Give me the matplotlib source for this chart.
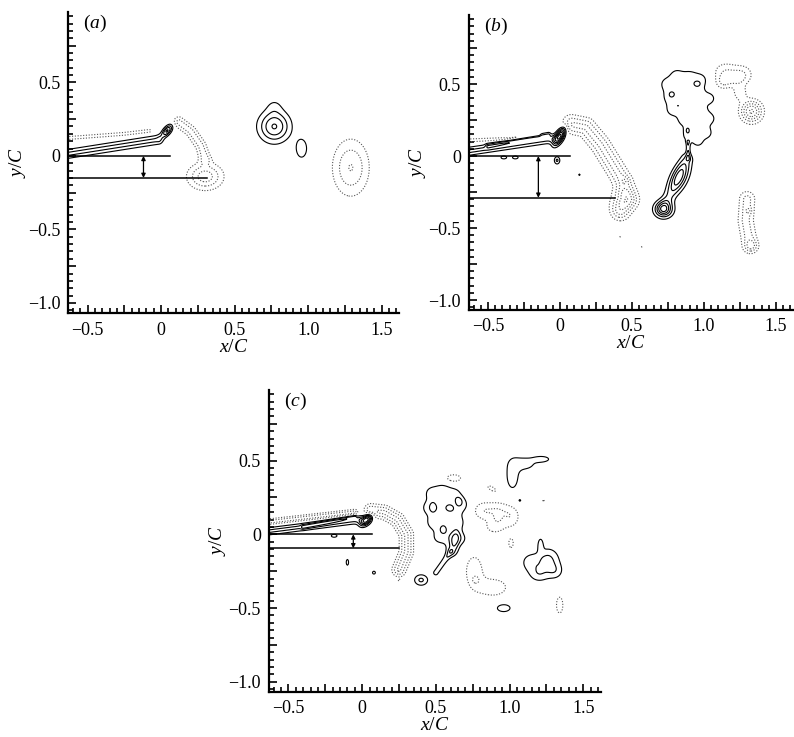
import numpy as np
import matplotlib
matplotlib.use("Agg")
import matplotlib.pyplot as plt
from matplotlib.ticker import MultipleLocator, FuncFormatter

plt.rcParams['font.family'] = ['Liberation Serif', 'DejaVu Serif']
plt.rcParams['mathtext.fontset'] = 'custom'
plt.rcParams['mathtext.rm'] = 'Liberation Serif'
plt.rcParams['mathtext.it'] = 'Liberation Serif:italic'

# vorticity blobs: (x, y, sx, sy, angle_deg, strength)
blobs_a = [
    (0.04, 0.17, 0.035, 0.017, 50, 2.1),
    (0.30, -0.14, 0.08, 0.06, 0, -1.8),
    (0.77, 0.20, 0.072, 0.072, 0, 2.05),
    (0.77, 0.34, 0.04, 0.04, 0, 0.4),
    (0.955, 0.05, 0.035, 0.06, 0, 0.8),
    (1.29, -0.08, 0.084, 0.13, 0, -1.52),
]
# ridges (shear layers / wake bands): (xs, ys, width, strength)
ridges_a = [
    ([-0.72, -0.02], [0.0, 0.11], 0.024, 1.1),
    ([-0.72, -0.25, -0.08], [0.115, 0.15, 0.17], 0.010, -0.8),
    ([0.12, 0.20, 0.27, 0.30], [0.23, 0.17, 0.07, -0.02], 0.027, -1.2),
]

blobs_b = [
    (0.00, 0.14, 0.048, 0.020, 60, 3.2),
    (-0.02, -0.03, 0.015, 0.02, 0, 1.1),
    (-0.39, -0.01, 0.02, 0.01, 0, 0.8),
    (-0.31, -0.01, 0.02, 0.01, 0, 0.8),
    (0.135, -0.13, 0.006, 0.006, 0, 0.7),
    (0.44, -0.30, 0.065, 0.055, 0, -1.0),
    (0.45, -0.17, 0.02, 0.02, 0, -0.5),
    # upper positive cluster
    (0.74, 0.50, 0.04, 0.04, 0, 0.65),
    (0.81, 0.56, 0.04, 0.04, 0, 0.65),
    (0.90, 0.55, 0.04, 0.04, 0, 0.65),
    (0.98, 0.53, 0.04, 0.04, 0, 0.65),
    (0.76, 0.41, 0.04, 0.04, 0, 0.65),
    (0.86, 0.45, 0.04, 0.04, 0, 0.65),
    (0.96, 0.44, 0.04, 0.04, 0, 0.65),
    (1.04, 0.40, 0.035, 0.035, 0, 0.65),
    (0.78, 0.32, 0.04, 0.04, 0, 0.65),
    (0.88, 0.35, 0.04, 0.04, 0, 0.65),
    (0.98, 0.32, 0.04, 0.04, 0, 0.65),
    (1.04, 0.26, 0.035, 0.035, 0, 0.65),
    (0.86, 0.25, 0.04, 0.04, 0, 0.65),
    (0.95, 0.22, 0.045, 0.04, 0, 0.7),
    (1.02, 0.16, 0.035, 0.035, 0, 0.65),
    (0.89, 0.14, 0.035, 0.035, 0, 0.65),
    (0.96, 0.10, 0.035, 0.035, 0, 0.6),
    (0.78, 0.43, 0.018, 0.018, 0, 0.5),
    (0.95, 0.50, 0.02, 0.015, 0, 0.5),
    (0.885, 0.18, 0.015, 0.02, 0, 0.5),
    (0.82, 0.35, 0.012, 0.012, 0, 0.4),
    # lower positive pair
    (0.83, -0.15, 0.08, 0.04, 65, 1.6),
    (0.72, -0.37, 0.045, 0.04, 0, 2.1),
    # upper right negative cluster
    (1.15, 0.59, 0.06, 0.045, 0, -0.85),
    (1.27, 0.57, 0.05, 0.045, 0, -0.85),
    (1.20, 0.53, 0.06, 0.035, 0, -0.8),
    (1.13, 0.51, 0.035, 0.035, 0, -0.7),
    (1.25, 0.44, 0.035, 0.04, 0, -0.8),
    (1.33, 0.31, 0.05, 0.05, 0, -2.6),
    (1.33, -0.62, 0.028, 0.028, 0, -0.8),
    (1.31, -0.38, 0.015, 0.015, 0, -0.6),
    (0.42, -0.56, 0.005, 0.005, 0, -0.7),
    (0.57, -0.63, 0.005, 0.005, 0, -0.7),
]
ridges_b = [
    ([-0.72, -0.05], [0.02, 0.12], 0.022, 1.1),
    ([-0.50, -0.08], [0.07, 0.15], 0.012, 0.8),
    ([-0.72, -0.35, -0.15], [0.105, 0.12, 0.15], 0.010, -0.8),
    ([0.08, 0.18, 0.28, 0.36, 0.44, 0.47, 0.42],
     [0.22, 0.20, 0.08, -0.05, -0.18, -0.30, -0.38], 0.045, -1.6),
    ([0.89, 0.89], [0.10, -0.02], 0.010, 0.8),
    ([0.72, 0.88], [-0.36, -0.02], 0.03, 0.8),
    ([1.30, 1.29, 1.32], [-0.30, -0.45, -0.62], 0.04, -1.2),
]

blobs_c = [
    (0.03, 0.10, 0.035, 0.02, 45, 3.0),
    (-0.19, -0.01, 0.02, 0.01, 0, 0.8),
    (-0.10, -0.19, 0.008, 0.02, 0, 0.8),
    (0.08, -0.26, 0.01, 0.01, 0, 0.8),
    (0.25, -0.31, 0.005, 0.005, 0, -0.7),
    (0.40, -0.31, 0.035, 0.028, 0, 1.1),
    # central positive cluster
    (0.47, 0.28, 0.04, 0.04, 0, 0.65),
    (0.55, 0.30, 0.04, 0.04, 0, 0.65),
    (0.63, 0.27, 0.04, 0.04, 0, 0.65),
    (0.68, 0.20, 0.035, 0.035, 0, 0.65),
    (0.45, 0.18, 0.04, 0.04, 0, 0.65),
    (0.53, 0.18, 0.04, 0.04, 0, 0.65),
    (0.62, 0.16, 0.04, 0.04, 0, 0.65),
    (0.48, 0.08, 0.04, 0.04, 0, 0.65),
    (0.56, 0.08, 0.04, 0.04, 0, 0.65),
    (0.65, 0.08, 0.04, 0.04, 0, 0.65),
    (0.52, -0.02, 0.04, 0.04, 0, 0.6),
    (0.60, -0.02, 0.04, 0.04, 0, 0.65),
    (0.67, -0.03, 0.035, 0.035, 0, 0.6),
    (0.61, -0.11, 0.035, 0.035, 0, 0.65),
    (0.48, 0.185, 0.015, 0.025, 0, 0.6),
    (0.59, 0.185, 0.02, 0.02, 0, 0.5),
    (0.655, 0.23, 0.02, 0.02, 0, 0.5),
    (0.55, 0.03, 0.02, 0.02, 0, 0.5),
    (0.63, -0.04, 0.05, 0.022, 80, 1.1),
    # other structures
    (0.62, 0.38, 0.05, 0.025, 0, -0.8),
    (0.88, 0.31, 0.03, 0.012, -30, -0.8),
    (0.82, 0.16, 0.05, 0.045, 0, -0.85),
    (0.92, 0.16, 0.05, 0.045, 0, -0.85),
    (1.01, 0.12, 0.045, 0.055, 0, -0.85),
    (0.90, 0.05, 0.05, 0.035, 0, -0.75),
    (0.92, 0.11, 0.02, 0.02, 0, -0.5),
    (1.01, -0.06, 0.015, 0.03, 0, -0.8),
    (1.26, -0.17, 0.055, 0.055, 0, 1.1),
    (1.14, -0.19, 0.045, 0.045, 0, 0.75),
    (1.20, -0.27, 0.05, 0.04, 0, 0.8),
    (1.31, -0.25, 0.04, 0.04, 0, 0.7),
    (1.21, -0.07, 0.014, 0.035, 0, 0.8),
    (0.76, -0.25, 0.05, 0.09, 0, -0.85),
    (0.89, -0.36, 0.08, 0.05, 0, -0.85),
    (0.77, -0.31, 0.015, 0.015, 0, -0.6),
    (0.96, -0.50, 0.045, 0.025, 0, 0.8),
    (1.34, -0.48, 0.022, 0.055, 0, -0.8),
    (1.07, 0.23, 0.006, 0.006, 0, 0.8),
    (1.23, 0.23, 0.006, 0.006, 0, -0.7),
    (1.02, 0.40, 0.035, 0.08, 0, 0.85),
    (1.10, 0.48, 0.06, 0.035, 0, 0.8),
    (1.22, 0.51, 0.045, 0.017, 0, 0.8),
]
ridges_c = [
    ([-0.72, -0.02], [0.01, 0.10], 0.02, 1.1),
    ([-0.40, -0.05], [0.05, 0.12], 0.010, 0.8),
    ([-0.72, -0.05], [0.075, 0.15], 0.015, -1.2),
    ([0.06, 0.15, 0.24, 0.30, 0.30, 0.25],
     [0.16, 0.15, 0.10, 0.00, -0.12, -0.24], 0.032, -1.6),
    ([0.60, 0.50], [-0.12, -0.26], 0.015, 0.8),
]

# reference lines: (y of upper line, y of lower line, x end upper, x end lower, arrow x)
refs_a = (0.0, -0.15, 0.06, 0.31, -0.12)
refs_b = (0.0, -0.29, 0.07, 0.38, -0.15)
refs_c = (0.0, -0.095, 0.07, 0.25, -0.06)

labels = ['a', 'b', 'c']
levels = list(np.arange(0.5, 8.01, 0.5))

xg = np.linspace(-0.7, 1.7, 481)
yg = np.linspace(-1.1, 1.0, 421)
X, Y = np.meshgrid(xg, yg)


def build_field(blobs, ridges):
    Z = np.zeros_like(X)
    for x0, y0, sx, sy, ang, amp in blobs:
        t = np.deg2rad(ang)
        u = (X - x0) * np.cos(t) + (Y - y0) * np.sin(t)
        v = -(X - x0) * np.sin(t) + (Y - y0) * np.cos(t)
        Z += amp * np.exp(-0.5 * ((u / sx) ** 2 + (v / sy) ** 2))
    for xs, ys, w, amp in ridges:
        d = np.full_like(X, np.inf)
        for i in range(len(xs) - 1):
            ax_, ay_, bx_, by_ = xs[i], ys[i], xs[i + 1], ys[i + 1]
            dx, dy = bx_ - ax_, by_ - ay_
            tt = np.clip(((X - ax_) * dx + (Y - ay_) * dy) / (dx * dx + dy * dy), 0, 1)
            d = np.minimum(d, np.hypot(X - ax_ - tt * dx, Y - ay_ - tt * dy))
        Z += amp * np.exp(-0.5 * (d / w) ** 2)
    return Z


def fmt(v, pos):
    if abs(v / 0.5 - round(v / 0.5)) > 1e-6:
        return ''
    if abs(v) < 1e-9:
        return '0'
    return f'{v:.1f}'.replace('-', '\u2212')


def style_axes(ax):
    ax.set_xlim(-0.63, 1.62)
    ax.set_ylim(-1.07, 0.98)
    ax.set_aspect('equal')
    for s in ['top', 'right']:
        ax.spines[s].set_visible(False)
    for s in ['left', 'bottom']:
        ax.spines[s].set_linewidth(1.6)
    ax.xaxis.set_major_locator(MultipleLocator(0.25))
    ax.xaxis.set_minor_locator(MultipleLocator(0.05))
    ax.yaxis.set_major_locator(MultipleLocator(0.25))
    ax.yaxis.set_minor_locator(MultipleLocator(0.05))
    ax.xaxis.set_major_formatter(FuncFormatter(fmt))
    ax.yaxis.set_major_formatter(FuncFormatter(fmt))
    ax.tick_params(which='both', direction='in', width=1.2, labelsize=13, pad=6)
    ax.tick_params(which='major', length=6)
    ax.tick_params(which='minor', length=3.5)
    ax.set_xlabel(r'$x/C$', fontsize=14, labelpad=0)
    ax.set_ylabel(r'$y/C$', fontsize=14, labelpad=0)


fig = plt.figure(figsize=(7.94, 7.37), dpi=100)
rects = [[0.0856, 0.575, 0.418, 0.409],
         [0.591, 0.575, 0.408, 0.409],
         [0.339, 0.061, 0.418, 0.410]]
panels = [(blobs_a, ridges_a, refs_a), (blobs_b, ridges_b, refs_b), (blobs_c, ridges_c, refs_c)]

for rect, (blobs, ridges, refs), lab in zip(rects, panels, labels):
    ax = fig.add_axes(rect)
    Z = build_field(blobs, ridges)
    ax.contour(X, Y, Z, levels=levels, colors='k', linewidths=0.8, linestyles='solid')
    ax.contour(X, Y, Z, levels=[-l for l in levels[::-1]], colors='#555555',
               linewidths=0.8, linestyles=[(0, (1, 1.5))])
    y_up, y_lo, x_up, x_lo, x_arr = refs
    ax.plot([-0.63, x_up], [y_up, y_up], color='k', lw=1.1)
    ax.plot([-0.63, x_lo], [y_lo, y_lo], color='k', lw=1.1)
    ax.annotate('', xy=(x_arr, y_lo), xytext=(x_arr, y_up),
                arrowprops=dict(arrowstyle='<|-|>', mutation_scale=6, lw=0.9,
                                color='k', shrinkA=0, shrinkB=0))
    ax.text(-0.53, 0.9, f'(${lab}$)', fontsize=14, va='center')
    style_axes(ax)

fig.savefig('out.png', dpi=100)
